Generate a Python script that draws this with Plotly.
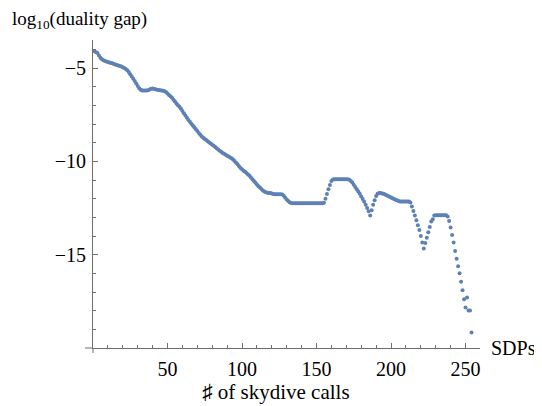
import plotly.graph_objects as go

# ---- data ----
calls = list(range(1, 255))
log_gap = [
    -4.10, -4.15, -4.20, -4.33, -4.45, -4.53, -4.58, -4.62, -4.65, -4.68,
    -4.70, -4.73, -4.75, -4.78, -4.81, -4.84, -4.87, -4.89, -4.92, -4.96,
    -5.00, -5.05, -5.12, -5.22, -5.33, -5.45, -5.57, -5.70, -5.83, -5.96,
    -6.08, -6.17, -6.20, -6.20, -6.20, -6.20, -6.19, -6.15, -6.11, -6.10,
    -6.12, -6.14, -6.16, -6.18, -6.19, -6.20, -6.22, -6.25, -6.29, -6.36,
    -6.44, -6.52, -6.60, -6.70, -6.80, -6.90, -7.00, -7.08, -7.18, -7.30,
    -7.42, -7.55, -7.67, -7.78, -7.88, -7.98, -8.08, -8.18, -8.28, -8.38,
    -8.48, -8.58, -8.67, -8.74, -8.80, -8.86, -8.92, -8.99, -9.05, -9.11,
    -9.17, -9.23, -9.30, -9.36, -9.43, -9.49, -9.55, -9.60, -9.65, -9.70,
    -9.74, -9.79, -9.84, -9.90, -9.98, -10.07, -10.16, -10.26, -10.36, -10.43,
    -10.50, -10.56, -10.62, -10.70, -10.77, -10.86, -10.96, -11.06, -11.15, -11.24,
    -11.33, -11.40, -11.48, -11.56, -11.62, -11.66, -11.68, -11.69, -11.70, -11.72,
    -11.75, -11.76, -11.76, -11.76, -11.76, -11.76, -11.78, -11.85, -11.95, -12.05,
    -12.13, -12.19, -12.23, -12.24, -12.24, -12.24, -12.24, -12.24, -12.24, -12.24,
    -12.24, -12.24, -12.24, -12.24, -12.24, -12.24, -12.24, -12.24, -12.24, -12.24,
    -12.24, -12.24, -12.24, -12.24, -12.22, -12.00, -11.75, -11.50, -11.27, -11.06,
    -10.97, -10.96, -10.96, -10.96, -10.96, -10.96, -10.96, -10.96, -10.96, -10.96,
    -10.96, -10.98, -11.05, -11.14, -11.25, -11.37, -11.49, -11.62, -11.74, -11.88,
    -12.02, -12.17, -12.33, -12.50, -12.67, -12.90, -12.62, -12.33, -12.08, -11.86,
    -11.74, -11.70, -11.70, -11.72, -11.74, -11.78, -11.82, -11.86, -11.90, -11.94,
    -11.98, -12.02, -12.06, -12.09, -12.12, -12.15, -12.15, -12.15, -12.15, -12.15,
    -12.15, -12.15, -12.20, -12.42, -12.66, -12.90, -13.16, -13.42, -13.68, -14.00,
    -14.35, -14.67, -14.37, -14.10, -13.80, -13.52, -13.22, -13.10, -12.90, -12.89,
    -12.89, -12.89, -12.89, -12.89, -12.89, -12.89, -12.89, -12.95, -13.20, -13.55,
    -13.95, -14.35, -14.80, -15.22, -15.62, -16.00, -16.45, -16.90, -17.39, -17.83,
    -17.30, -17.99, -17.99, -19.17,
]

x_tickvals = [50, 100, 150, 200, 250]
x_ticktext = ["50", "100", "150", "200", "250"]
y_tickvals = [-15, -10, -5]
y_ticktext = ["\u221215", "\u221210", "\u22125"]

FONT = "'Liberation Serif', 'DejaVu Serif', serif"
SHARP_FONT = "'DejaVu Serif', 'DejaVu Sans'"
AX = "#6e6e6e"
# the page body has an 8px default margin, so the figure is 8px smaller
PW, PH = 387, 308  # plot area size in px

fig = go.Figure()
fig.add_trace(go.Scatter(
    x=calls, y=log_gap, mode="markers",
    marker=dict(size=4, color="#5E81B5", line=dict(width=0)),
    cliponaxis=False, showlegend=False,
))

fig.update_layout(
    width=534, height=398,
    margin=dict(l=85, r=62, t=32, b=58),
    paper_bgcolor="white", plot_bgcolor="white",
    font=dict(family=FONT, size=20, color="black"),
    xaxis=dict(
        range=[0, 259.7], showgrid=False, zeroline=False, automargin=False,
        showline=True, linecolor=AX, linewidth=1,
        tickmode="array", tickvals=x_tickvals, ticktext=x_ticktext,
        ticks="inside", ticklen=5, tickcolor=AX, tickwidth=1,
        minor=dict(dtick=10, tick0=0, ticks="inside", ticklen=3, tickcolor=AX, tickwidth=1),
        tickfont=dict(family=FONT, size=20), ticklabelstandoff=3,
    ),
    yaxis=dict(
        range=[-20, -3.5], showgrid=False, zeroline=False, automargin=False,
        showline=True, linecolor=AX, linewidth=1,
        tickmode="array", tickvals=y_tickvals, ticktext=y_ticktext,
        ticks="inside", ticklen=5, tickcolor=AX, tickwidth=1,
        minor=dict(dtick=1, tick0=0, ticks="inside", ticklen=3, tickcolor=AX, tickwidth=1),
        tickfont=dict(family=FONT, size=20), ticklabelstandoff=2,
    ),
    shapes=[
        dict(type="line", xref="paper", yref="paper", x0=-8 / PW, x1=0, y0=0, y1=0,
             line=dict(color=AX, width=1)),
        dict(type="line", xref="paper", yref="paper", x0=0, x1=0, y0=-5 / PH, y1=0,
             line=dict(color=AX, width=1)),
    ],
    annotations=[
        dict(text="log<sub>10</sub>(duality gap)", xref="paper", yref="paper",
             x=(10 - 93) / PW, y=1 + 20 / PH, xanchor="left", yanchor="middle",
             showarrow=False, font=dict(family=FONT, size=19)),
        dict(text="SDPs", xref="paper", yref="paper",
             x=(489 - 93) / PW, y=0, xanchor="left", yanchor="middle",
             showarrow=False, font=dict(family=FONT, size=20)),
        dict(text="<span style='font-family:" + SHARP_FONT + "'>\u266f</span> of skydive calls",
             xref="paper", yref="paper",
             x=(276 - 93) / PW, y=-44 / PH, xanchor="center", yanchor="middle",
             showarrow=False, font=dict(family=FONT, size=21)),
    ],
)

fig.write_html("out.html")
